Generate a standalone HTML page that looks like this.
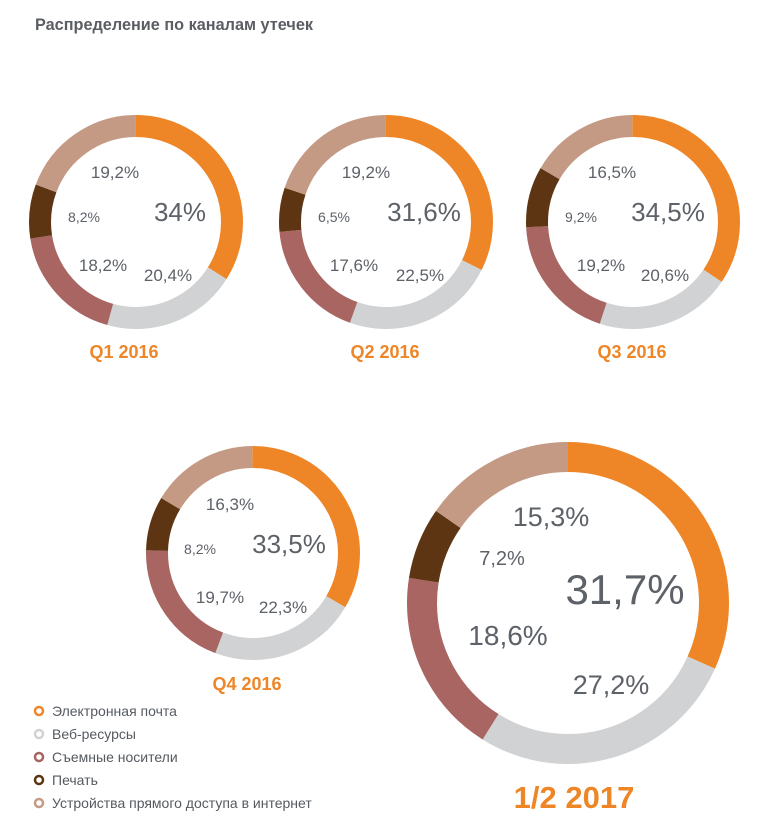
<!DOCTYPE html>
<html><head><meta charset="utf-8"><style>
body{margin:0;background:#fff;width:765px;height:831px;overflow:hidden}
svg{display:block}
.t{font-family:"Liberation Sans",sans-serif;fill:#5d6168;text-anchor:middle}
.q{font-family:"Liberation Sans Narrow","Liberation Sans",sans-serif;font-weight:bold;fill:#ee8627;text-anchor:middle}
.lg{font-family:"Liberation Sans Narrow","Liberation Sans",sans-serif;fill:#555a60;font-size:14px}
</style></head><body>
<svg width="765" height="831" viewBox="0 0 765 831">
<text x="35" y="30" textLength="278" lengthAdjust="spacingAndGlyphs" style="font-family:'Liberation Sans Narrow','Liberation Sans',sans-serif;font-weight:bold;font-size:17px;fill:#5a5e63">Распределение по каналам утечек</text>
<g id="d"></g>
<g font-size="17">
<text class="t" x="115" y="178">19,2%</text><text class="t" x="84" y="222" font-size="14">8,2%</text><text class="t" x="180" y="221" font-size="26">34%</text><text class="t" x="103" y="271">18,2%</text><text class="t" x="168" y="281">20,4%</text>
<text class="q" x="124" y="358" font-size="18">Q1 2016</text>
<text class="t" x="366" y="178">19,2%</text><text class="t" x="334" y="222" font-size="14">6,5%</text><text class="t" x="424" y="221" font-size="26">31,6%</text><text class="t" x="354" y="271">17,6%</text><text class="t" x="420" y="281">22,5%</text>
<text class="q" x="385" y="358" font-size="18">Q2 2016</text>
<text class="t" x="612" y="178">16,5%</text><text class="t" x="581" y="222" font-size="14">9,2%</text><text class="t" x="668" y="221" font-size="26">34,5%</text><text class="t" x="601" y="271">19,2%</text><text class="t" x="665" y="281">20,6%</text>
<text class="q" x="632" y="358" font-size="18">Q3 2016</text>
<text class="t" x="230" y="510">16,3%</text><text class="t" x="200" y="554" font-size="14">8,2%</text><text class="t" x="289" y="553" font-size="26">33,5%</text><text class="t" x="220" y="603">19,7%</text><text class="t" x="283" y="613">22,3%</text>
<text class="q" x="247" y="690" font-size="18">Q4 2016</text>
<text class="t" x="551" y="526" font-size="27">15,3%</text><text class="t" x="502" y="565" font-size="20">7,2%</text><text class="t" x="625" y="604" font-size="42">31,7%</text><text class="t" x="508" y="645" font-size="28">18,6%</text><text class="t" x="611" y="694" font-size="27">27,2%</text>
<text class="q" x="574" y="808" font-size="31">1/2 2017</text>
</g>
<g fill="none" stroke-width="2.5">
<circle cx="39" cy="711" r="4" stroke="#ee8627"/><circle cx="39" cy="734" r="4" stroke="#d1d2d3"/><circle cx="39" cy="757" r="4" stroke="#a86562"/><circle cx="39" cy="780" r="4" stroke="#5e3512"/><circle cx="39" cy="803" r="4" stroke="#c49a85"/>
</g>
<text class="lg" x="52" y="716">Электронная почта</text>
<text class="lg" x="52" y="739">Веб-ресурсы</text>
<text class="lg" x="52" y="762">Съемные носители</text>
<text class="lg" x="52" y="785">Печать</text>
<text class="lg" x="52" y="808">Устройства прямого доступа в интернет</text>
</svg>
<script>
var C=["#ee8627","#d1d2d3","#a86562","#5e3512","#c49a85"];
var D=[[136,222,96,22,[34,20.4,18.2,8.2,19.2]],[386,222,96,22,[31.6,22.5,17.6,6.5,19.2]],[633,222,96,22,[34.5,20.6,19.2,9.2,16.5]],[253,553,96,22,[33.5,22.3,19.7,8.2,16.3]],[568,603,146,30,[31.7,27.2,18.6,7.2,15.3]]];
var g=document.getElementById('d'),s='';
D.forEach(function(d){var v=d[4],t=v.reduce(function(a,b){return a+b},0),c=0;
v.forEach(function(x,i){var p=x/t*100;s+='<circle cx="'+d[0]+'" cy="'+d[1]+'" r="'+d[2]+'" fill="none" stroke="'+C[i]+'" stroke-width="'+d[3]+'" pathLength="100" stroke-dasharray="'+p+' '+(100-p)+'" stroke-dashoffset="'+(-c)+'" transform="rotate(-90 '+d[0]+' '+d[1]+')"/>';c+=p;});});
g.innerHTML=s;
</script>
</body></html>
